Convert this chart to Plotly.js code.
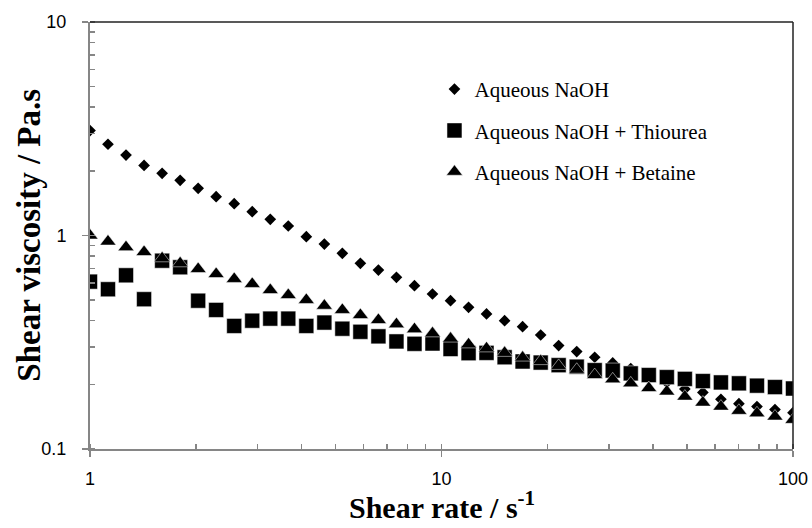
<!DOCTYPE html>
<html>
<head>
<meta charset="utf-8">
<script src="https://cdn.plot.ly/plotly-3.0.1.min.js"></script>
<style>html,body{margin:0;padding:0;background:#fff;}</style>
</head>
<body>
<div id="chart" style="width:812px;height:528px;"></div>
<script>
// Shear rate (1/s)
const shearRate = [1, 1.125, 1.266, 1.425, 1.604, 1.805, 2.031, 2.285, 2.572, 2.894,
  3.257, 3.665, 4.125, 4.642, 5.223, 5.878, 6.615, 7.444, 8.377, 9.427,
  10.61, 11.94, 13.43, 15.12, 17.01, 19.15, 21.54, 24.25, 27.28, 30.70,
  34.55, 38.88, 43.76, 49.24, 55.41, 62.36, 70.17, 78.97, 88.86, 100];

// Shear viscosity (Pa.s)
const viscNaOH = [3.10, 2.675, 2.38, 2.13, 1.956, 1.813, 1.664, 1.520, 1.409, 1.293,
  1.191, 1.108, 0.987, 0.912, 0.825, 0.741, 0.689, 0.637, 0.582, 0.532,
  0.495, 0.461, 0.429, 0.399, 0.374, 0.342, 0.305, 0.286, 0.269, 0.253,
  0.238, 0.224, 0.205, 0.191, 0.184, 0.171, 0.163, 0.158, 0.153, 0.148];

const viscThiourea = [0.608, 0.560, 0.651, 0.503, 0.762, 0.710, 0.495, 0.448, 0.377, 0.399,
  0.408, 0.408, 0.377, 0.391, 0.366, 0.354, 0.337, 0.319, 0.311, 0.312,
  0.294, 0.281, 0.282, 0.269, 0.257, 0.254, 0.247, 0.243, 0.234, 0.233,
  0.226, 0.222, 0.217, 0.213, 0.208, 0.205, 0.203, 0.198, 0.195, 0.192];

const viscBetaine = [1.00, 0.937, 0.882, 0.837, 0.782, 0.741, 0.697, 0.660, 0.626, 0.593,
  0.555, 0.526, 0.499, 0.469, 0.448, 0.424, 0.402, 0.384, 0.364, 0.348,
  0.329, 0.309, 0.296, 0.282, 0.268, 0.258, 0.245, 0.235, 0.222, 0.212,
  0.203, 0.193, 0.186, 0.176, 0.165, 0.158, 0.151, 0.147, 0.142, 0.137];

const seriesNames = ['Aqueous NaOH', 'Aqueous NaOH + Thiourea', 'Aqueous NaOH + Betaine'];
const xTitle = '<b>Shear rate / s<sup>-1</sup></b>';
const yTitle = '<b>Shear viscosity / Pa.s</b>';

const axisGray = '#868686';
const serif = 'Liberation Serif, Times New Roman, serif';

const traces = [
  {x: shearRate, y: viscNaOH, name: seriesNames[0], legendgroup: 'a', type: 'scatter', mode: 'markers',
   marker: {symbol: 'diamond', size: 9, color: '#000', line: {width: 0}}},
  {x: shearRate, y: viscThiourea, name: seriesNames[1], legendgroup: 'b', type: 'scatter', mode: 'markers',
   marker: {symbol: 'square', size: 15, color: '#000', line: {width: 0.5, color: '#fff'}}},
  {x: shearRate, y: viscBetaine, name: seriesNames[2], legendgroup: 'c', type: 'scatter', mode: 'markers',
   marker: {symbol: 'triangle-up', size: 14, color: '#000', line: {width: 0.5, color: '#fff'}}}
];

const commonAxis = {
  type: 'log', dtick: 1, showgrid: false, zeroline: false,
  showline: true, linecolor: axisGray, linewidth: 2,
  ticks: 'outside', ticklen: 6, tickwidth: 1.5, tickcolor: axisGray,
  tickfont: {family: 'Liberation Sans, Arial, sans-serif', size: 18, color: '#000'},
  minor: {ticks: 'inside', ticklen: 5, tickwidth: 1.5, tickcolor: axisGray, dtick: 'D1', showgrid: false}
};

const layout = {
  width: 812, height: 528,
  margin: {l: 90, r: 19, t: 22, b: 79},
  paper_bgcolor: '#fff', plot_bgcolor: '#fff',
  showlegend: true,
  legend: {
    x: 0.49, y: 0.89, xanchor: 'left', yanchor: 'top',
    font: {family: serif, size: 21, color: '#000'},
    tracegroupgap: 11, bgcolor: 'rgba(0,0,0,0)', borderwidth: 0
  },
  xaxis: Object.assign({}, commonAxis, {range: [0, 2], ticklabelstandoff: 6}),
  yaxis: Object.assign({}, commonAxis, {range: [-1, 1], ticklabelstandoff: 12}),
  annotations: [
    {text: xTitle, xref: 'paper', yref: 'paper', x: 0.5, y: -0.1805, xanchor: 'center', yanchor: 'bottom',
     showarrow: false, font: {family: serif, size: 30, color: '#000'}},
    {text: yTitle, xref: 'paper', yref: 'paper', x: -0.088, y: 0.5, xanchor: 'center', yanchor: 'middle',
     textangle: -90, showarrow: false, font: {family: serif, size: 33, color: '#000'}}
  ],
  shapes: [
    {type: 'line', xref: 'paper', yref: 'paper', x0: 0, x1: 1, y0: 1, y1: 1, line: {color: '#222', width: 1.5}},
    {type: 'line', xref: 'paper', yref: 'paper', x0: 1, x1: 1, y0: 0, y1: 1, line: {color: '#222', width: 1.5}}
  ]
};

Plotly.newPlot('chart', traces, layout, {displayModeBar: false, staticPlot: true});
</script>
</body>
</html>
